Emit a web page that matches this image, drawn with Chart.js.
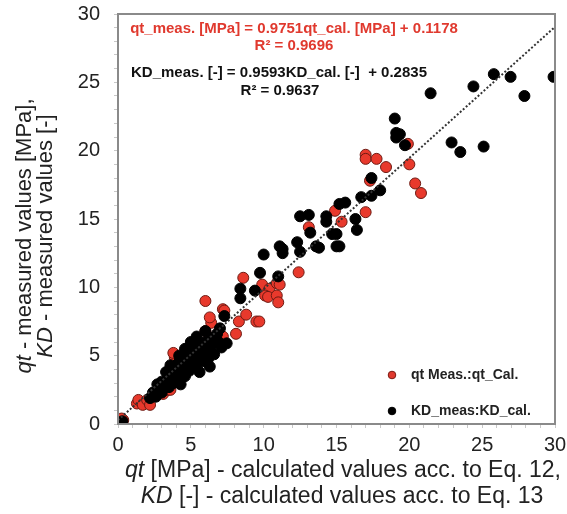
<!DOCTYPE html>
<html><head><meta charset="utf-8">
<script src="https://cdn.jsdelivr.net/npm/chart.js@4/dist/chart.umd.min.js"></script>
<style>html,body{margin:0;padding:0;background:#fff}#wrap{width:567px;height:514px}</style>
</head><body><div id="wrap"><canvas id="c" width="567" height="514"></canvas></div>
<script>
// ---- data ----
const xTickLabels = [0, 5, 10, 15, 20, 25, 30];
const yTickLabels = [0, 5, 10, 15, 20, 25, 30];

const qtCal  = [0.14,0.36,0.25,1.3,1.4,1.7,2.0,2.2,3.1,3.45,3.6,3.9,3.8,6.1,7.0,6.0,6.4,6.4,6.3,6.0,7.2,7.3,7.2,8.1,8.3,8.8,9.5,9.7,8.6,9.9,10.4,10.9,11.1,10.1,10.3,10.9,11.0,12.4,13.1,14.9,15.35,17.0,17.3,17.0,17.0,17.75,18.4,20.0,19.9,20.4,20.8,2.6,4.0,5.2];
const qtMeas = [0.05,0.29,0.4,1.5,1.76,1.4,1.76,1.4,2.2,2.5,2.5,4.9,5.2,4.9,6.3,6.8,6.2,7.4,7.8,9.0,8.4,8.3,6.4,6.6,7.5,8.0,7.5,7.5,10.7,10.2,9.9,10.3,10.2,9.4,9.3,9.4,8.9,11.1,14.4,15.6,14.8,15.5,17.8,19.7,19.4,19.4,18.8,19.0,20.5,17.6,16.9,2.3,3.3,5.5];

const kdCal  = [21.46,24.4,25.8,26.95,27.9,29.9,22.9,23.5,25.1,19.7,19.35,19.0,19.1,19.1,
  17.4,18.0,17.4,16.7,15.6,15.2,12.5,13.1,14.3,14.3,16.3,16.4,13.2,14.7,15.0,12.3,11.1,13.8,15.0,15.2,10.0,11.3,12.5,13.6,11.3,
  9.75,11.0,8.4,9.4,8.4,7.3,7.46,
  0.02,0.3,2.2,2.4,2.6,2.9,3.0,3.2,3.4,3.5,3.7,3.8,3.9,4.0,4.1,4.2,4.3,4.4,4.5,4.6,4.7,4.8,4.9,5.0,5.1,5.2,5.3,5.4,5.5,5.6,5.7,5.8,5.9,6.0,6.1,6.2,6.3,6.4,6.5,6.6,6.8,6.9,7.1,5.0,4.6,4.2,3.6,3.3,5.4,6.0,7.0,3.0,2.7];
const kdMeas = [24.2,24.7,25.6,25.4,24.0,25.4,20.6,19.9,20.3,20.4,21.2,22.35,21.3,20.96,
  18.0,17.1,16.7,16.6,16.2,16.1,15.2,15.3,15.2,14.8,15.0,14.2,14.0,13.9,13.9,13.3,13.0,12.9,13.0,13.0,12.4,12.5,12.6,13.0,12.8,
  11.06,10.8,9.9,9.76,9.2,7.9,5.9,
  0.05,0.2,1.9,2.3,2.0,2.6,3.1,2.8,3.3,2.7,3.6,3.0,4.0,3.4,4.4,3.8,2.9,4.6,4.1,3.5,5.0,4.4,3.9,5.3,4.8,4.2,5.6,5.0,4.5,3.8,5.8,5.2,4.6,6.0,5.4,4.8,4.2,5.7,6.3,5.1,6.6,6.0,5.6,6.0,5.5,5.0,4.3,3.8,6.4,6.8,7.0,2.3,2.9];

// dotted trendline end points
const trendX = [0, 30];
const trendY = [0.28, 29.06];

const eqQt  = ['qt_meas. [MPa] = 0.9751qt_cal. [MPa] + 0.1178', 'R² = 0.9696'];
const eqKd  = ['KD_meas. [-] = 0.9593KD_cal. [-]  + 0.2835', 'R² = 0.9637'];
const legendLabels = ['qt Meas.:qt_Cal.', 'KD_meas:KD_cal.'];

const toPts = (xs, ys) => xs.map((x, i) => ({x, y: ys[i]}));
const FONT = '"Liberation Sans", Arial, sans-serif';

function drawMixed(ctx, segs, cx, cy, size) {
  let w = 0;
  segs.forEach(s => { ctx.font = (s.i ? 'italic ' : '') + size + 'px ' + FONT; w += ctx.measureText(s.t).width; });
  let x = cx - w / 2;
  ctx.textAlign = 'left'; ctx.textBaseline = 'middle';
  segs.forEach(s => { ctx.font = (s.i ? 'italic ' : '') + size + 'px ' + FONT; ctx.fillText(s.t, x, cy); x += ctx.measureText(s.t).width; });
}

const deco = {
  id: 'deco',
  afterDraw(chart) {
    const ctx = chart.ctx, a = chart.chartArea;
    ctx.save();
    // plot box
    ctx.strokeStyle = '#8a8a8a'; ctx.lineWidth = 2;
    ctx.strokeRect(a.left, a.top, a.right - a.left, a.bottom - a.top);
    // equations
    ctx.textAlign = 'center'; ctx.textBaseline = 'middle';
    ctx.font = 'bold 15px ' + FONT;
    ctx.fillStyle = '#e0392e';
    ctx.fillText(eqQt[0], 294, 29);
    ctx.fillText(eqQt[1], 294, 46);
    ctx.fillStyle = '#111';
    ctx.fillText(eqKd[0], 279, 73);
    ctx.fillText(eqKd[1], 280, 91);
    // legend
    const lg = [{c:'#e0392e', b:'#7a1a12', t:legendLabels[0], y:375}, {c:'#000', b:'#000', t:legendLabels[1], y:411}];
    lg.forEach(l => {
      ctx.beginPath(); ctx.arc(392, l.y, 3.8, 0, Math.PI * 2);
      ctx.fillStyle = l.c; ctx.fill(); ctx.lineWidth = 1; ctx.strokeStyle = l.b; ctx.stroke();
      ctx.fillStyle = '#222'; ctx.font = 'bold 14px ' + FONT; ctx.textAlign = 'left'; ctx.textBaseline = 'middle';
      ctx.fillText(l.t, 411, l.y);
    });
    // axis titles
    ctx.fillStyle = '#222';
    drawMixed(ctx, [{t:'qt', i:true}, {t:' [MPa] - calculated values acc. to Eq. 12,'}], 343, 471, 23);
    drawMixed(ctx, [{t:'KD', i:true}, {t:' [-] - calculated values acc. to Eq. 13'}], 342, 497, 23);
    ctx.save(); ctx.translate(25, 236); ctx.rotate(-Math.PI / 2);
    drawMixed(ctx, [{t:'qt', i:true}, {t:' - measured values [MPa],'}], 0, 0, 22);
    ctx.restore();
    ctx.save(); ctx.translate(46, 236); ctx.rotate(-Math.PI / 2);
    drawMixed(ctx, [{t:'KD', i:true}, {t:' - measured values [-]'}], 0, 0, 22);
    ctx.restore();
    ctx.restore();
  }
};

const axisCommon = {
  type: 'linear', min: 0, max: 30,
  ticks: { stepSize: 1, autoSkip: false, maxRotation: 0, color: '#222', font: {family: FONT, size: 20} },
  grid: { drawOnChartArea: false, drawTicks: true, tickLength: 4, color: '#c8c8c8' },
  border: { display: false }
};

new Chart(document.getElementById('c'), {
  type: 'scatter',
  data: {
    datasets: [
      { label: legendLabels[0], data: toPts(qtCal, qtMeas), backgroundColor: '#e8392c', borderColor: '#6e1a12', borderWidth: 1, pointRadius: 5.5, order: 3 },
      { label: legendLabels[1], data: toPts(kdCal, kdMeas), backgroundColor: '#000', borderColor: '#000', borderWidth: 1, pointRadius: 5.5, order: 2 },
      { type: 'line', label: 'trend', data: toPts(trendX, trendY), borderColor: '#333', borderWidth: 2, borderDash: [2, 2], pointRadius: 0, fill: false, order: 1 }
    ]
  },
  options: {
    responsive: false, animation: false,
    layout: { padding: { top: 14, right: 12, left: 0, bottom: 0 } },
    plugins: { legend: { display: false }, tooltip: { enabled: false } },
    scales: {
      x: Object.assign({}, axisCommon, {
        ticks: Object.assign({}, axisCommon.ticks, { padding: 5, callback: v => xTickLabels.includes(v) ? String(v) : '' }),
        afterFit: s => { s.height = 90; s.paddingLeft = 0; s.paddingRight = 0; }
      }),
      y: Object.assign({}, axisCommon, {
        ticks: Object.assign({}, axisCommon.ticks, { padding: 14, callback: v => yTickLabels.includes(v) ? String(v) : '' }),
        afterFit: s => { s.width = 118; s.paddingTop = 0; s.paddingBottom = 0; }
      })
    }
  },
  plugins: [deco]
});
</script>
</body></html>
